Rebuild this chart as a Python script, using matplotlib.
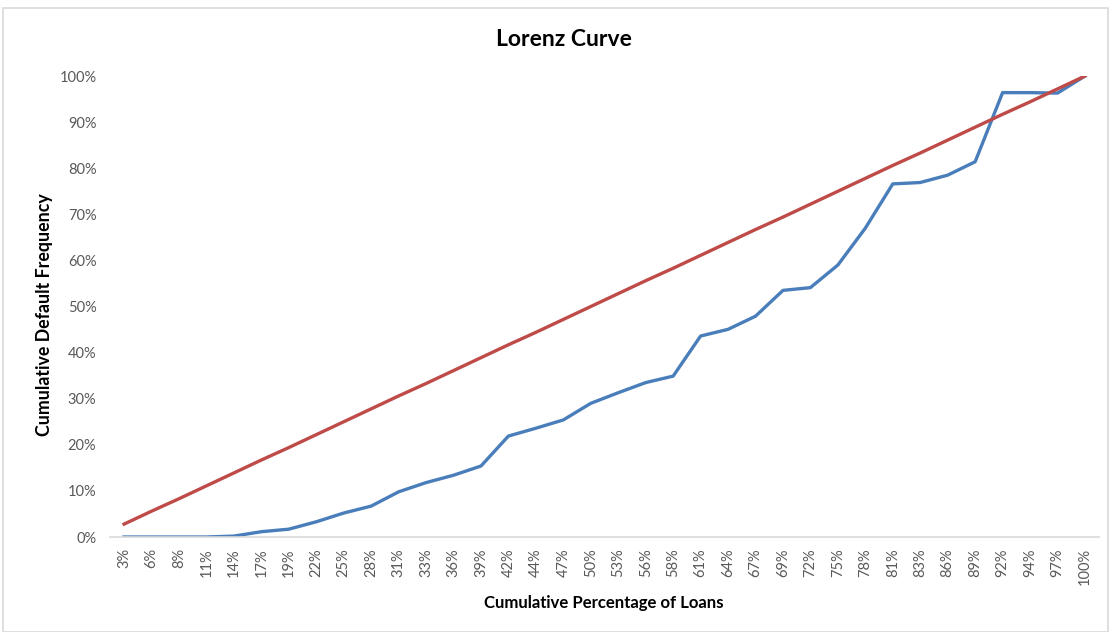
import matplotlib
matplotlib.use("Agg")
import matplotlib.pyplot as plt
from matplotlib.patches import Rectangle

plt.rcParams['font.family'] = ['Lato', 'DejaVu Sans']

# category labels (cumulative percentage of loans)
loan_labels = ['3%', '6%', '8%', '11%', '14%', '17%', '19%', '22%', '25%', '28%',
               '31%', '33%', '36%', '39%', '42%', '44%', '47%', '50%', '53%', '56%',
               '58%', '61%', '64%', '67%', '69%', '72%', '75%', '78%', '81%', '83%',
               '86%', '89%', '92%', '94%', '97%', '100%']

# cumulative default frequency (%)
default_freq = [0, 0, 0, 0, 0.2, 1.15, 1.7, 3.3, 5.2, 6.7,
                9.8, 11.8, 13.4, 15.4, 21.9, 23.6, 25.4, 29.0, 31.3, 33.5,
                34.9, 43.6, 45.05, 47.9, 53.5, 54.1, 59.0, 67.0, 76.6, 76.9,
                78.5, 81.4, 96.4, 96.4, 96.3, 100]

# line of equality (%)
equality = [2.8, 5.6, 8.3, 11.1, 13.9, 16.7, 19.4, 22.2, 25.0, 27.8,
            30.6, 33.3, 36.1, 38.9, 41.7, 44.4, 47.2, 50.0, 52.8, 55.6,
            58.3, 61.1, 63.9, 66.7, 69.4, 72.2, 75.0, 77.8, 80.6, 83.3,
            86.1, 88.9, 91.7, 94.4, 97.2, 100.0]

fig = plt.figure(figsize=(11.1, 6.32), dpi=100)
fig.patches.append(Rectangle((0.003, 0.0), 0.995, 0.987, transform=fig.transFigure,
                             fill=False, edgecolor='#D9D9D9', linewidth=1.2))
ax = fig.add_axes([0.0994, 0.1503, 0.8904, 0.7294])

x = list(range(len(loan_labels)))
ax.plot(x, default_freq, color='#4A7EBB', linewidth=2.4, solid_joinstyle='round')
ax.plot(x, equality, color='#BE4B48', linewidth=2.4, solid_joinstyle='round')

ax.set_xlim(-0.5, len(loan_labels) - 0.5)
ax.set_ylim(0, 100)
ax.set_xticks(x)
ax.set_xticklabels(loan_labels, rotation=90)
ax.set_yticks(range(0, 101, 10))
ax.set_yticklabels([f'{v}%' for v in range(0, 101, 10)])
ax.tick_params(axis='both', length=0, labelsize=10.5, colors='#595959')
ax.tick_params(axis='x', pad=8)
ax.tick_params(axis='y', pad=10)

for side in ['top', 'right', 'left']:
    ax.spines[side].set_visible(False)
ax.spines['bottom'].set_color('#D9D9D9')
ax.spines['bottom'].set_linewidth(1.2)

fig.text(0.508, 0.937, 'Lorenz Curve', ha='center', va='center',
         fontsize=16.5, fontweight='bold', color='black')
fig.text(0.0405, 0.502, 'Cumulative Default Frequency', ha='center', va='center',
         rotation=90, fontsize=12.8, fontweight='bold', color='black')
fig.text(0.544, 0.046, 'Cumulative Percentage of Loans', ha='center', va='center',
         fontsize=12.1, fontweight='bold', color='black')

fig.savefig('out.png', dpi=100)
